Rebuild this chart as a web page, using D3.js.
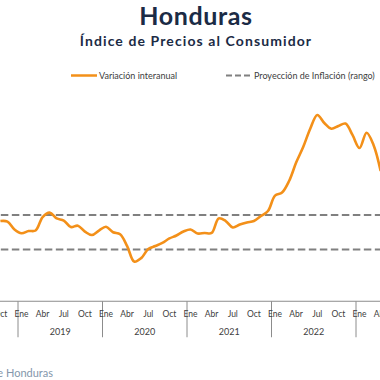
<!DOCTYPE html>
<html>
<head>
<meta charset="utf-8">
<script src="https://cdn.jsdelivr.net/npm/d3@7"></script>
<style>
  html, body { margin: 0; padding: 0; background: #fff; }
  svg { display: block; font-family: "Lato", "Noto Sans", sans-serif; }
</style>
</head>
<body>
<div id="chart"></div>
<script>
// Monthly CPI year-on-year change, Honduras (%), Oct 2018 .. Apr 2023
const months = [
  "2018-10", "2018-11", "2018-12",
  "2019-01", "2019-02", "2019-03", "2019-04", "2019-05", "2019-06",
  "2019-07", "2019-08", "2019-09", "2019-10", "2019-11", "2019-12",
  "2020-01", "2020-02", "2020-03", "2020-04", "2020-05", "2020-06",
  "2020-07", "2020-08", "2020-09", "2020-10", "2020-11", "2020-12",
  "2021-01", "2021-02", "2021-03", "2021-04", "2021-05", "2021-06",
  "2021-07", "2021-08", "2021-09", "2021-10", "2021-11", "2021-12",
  "2022-01", "2022-02", "2022-03", "2022-04", "2022-05", "2022-06",
  "2022-07", "2022-08", "2022-09", "2022-10", "2022-11", "2022-12",
  "2023-01", "2023-02", "2023-03", "2023-04"
];
const inflation = [
  4.65, 4.62, 4.16,
  3.94, 4.07, 4.10, 4.88, 5.14, 4.80,
  4.68, 4.30, 4.38, 4.04, 3.84, 4.10,
  4.32, 4.00, 3.88, 3.20, 2.30, 2.50,
  3.03, 3.20, 3.38, 3.64, 3.81, 4.04,
  4.16, 3.93, 3.96, 3.96, 4.80, 4.65,
  4.28, 4.45, 4.57, 4.65, 4.94, 5.23,
  6.12, 6.30, 6.97, 8.04, 8.94, 10.00,
  10.80, 10.33, 10.00, 10.16, 10.30, 9.64,
  8.88, 9.77, 9.05, 7.55
];
// Inflation projection range (%)
const rangeLow = 3;
const rangeHigh = 5;

const years = [2018, 2019, 2020, 2021, 2022, 2023];
const monthTicks = [0, 3, 6, 9];
const monthNames = ["Ene", "Abr", "Jul", "Oct"];

const W = 380, H = 380;
const svg = d3.select("#chart").append("svg")
  .attr("width", W).attr("height", H);

// month index counted from Jan 2019
const idx = m => {
  const [y, mo] = m.split("-").map(Number);
  return (y - 2019) * 12 + (mo - 1);
};

const x = d3.scaleLinear().domain([0, 12]).range([18, 102.5]);
const y = d3.scaleLinear().domain([0, 12]).range([301.25, 94.25]);

// titles
svg.append("text")
  .attr("x", 196).attr("y", 25)
  .attr("text-anchor", "middle")
  .attr("font-size", 25).attr("font-weight", 700)
  .attr("letter-spacing", 0.6)
  .attr("fill", "#1b2b45")
  .text("Honduras");
svg.append("text")
  .attr("x", 196).attr("y", 45.5)
  .attr("text-anchor", "middle")
  .attr("font-size", 14).attr("font-weight", 700)
  .attr("letter-spacing", 1.1)
  .attr("fill", "#1b2b45")
  .text("Índice de Precios al Consumidor");

// legend
const legend = svg.append("g").attr("font-size", 9).attr("fill", "#404040");
legend.append("line")
  .attr("x1", 71).attr("x2", 97).attr("y1", 75.5).attr("y2", 75.5)
  .attr("stroke", "#f39019").attr("stroke-width", 2.5);
legend.append("text").attr("x", 99).attr("y", 78.8).text("Variación interanual");
legend.append("line")
  .attr("x1", 226).attr("x2", 252).attr("y1", 75.5).attr("y2", 75.5)
  .attr("stroke", "#808080").attr("stroke-width", 2)
  .attr("stroke-dasharray", "6,3");
legend.append("text").attr("x", 254).attr("y", 78.8).text("Proyección de Inflación (rango)");

// projection range
const xMin = idx(months[0]) - 1, xMax = idx(months[months.length - 1]) + 2;
[rangeLow, rangeHigh].forEach(v => {
  svg.append("line")
    .attr("x1", x(xMin)).attr("x2", x(xMax))
    .attr("y1", y(v)).attr("y2", y(v))
    .attr("stroke", "#808080").attr("stroke-width", 2)
    .attr("stroke-dasharray", "7.5,3.5");
});

// series
const line = d3.line()
  .x(d => x(idx(d.m) + 0.5))
  .y(d => y(d.v))
  .curve(d3.curveCatmullRom.alpha(0.5));
svg.append("path")
  .datum(months.map((m, i) => ({m, v: inflation[i]})))
  .attr("d", line)
  .attr("fill", "none")
  .attr("stroke", "#f39019")
  .attr("stroke-width", 2.6)
  .attr("stroke-linejoin", "round");

// x axis
const axisY = y(0);
svg.append("line")
  .attr("x1", 0).attr("x2", W).attr("y1", axisY).attr("y2", axisY)
  .attr("stroke", "#8c8c8c").attr("stroke-width", 1);

const axis = svg.append("g").attr("fill", "#404040");
years.forEach(yr => {
  const start = (yr - 2019) * 12;
  axis.append("line")
    .attr("x1", x(start)).attr("x2", x(start))
    .attr("y1", axisY).attr("y2", axisY + 36)
    .attr("stroke", "#8c8c8c").attr("stroke-width", 1);
  monthTicks.forEach((mt, k) => {
    axis.append("text")
      .attr("x", x(start + mt + 0.5)).attr("y", axisY + 16)
      .attr("text-anchor", "middle").attr("font-size", 8.5)
      .text(monthNames[k]);
  });
  axis.append("text")
    .attr("x", x(start + 6)).attr("y", axisY + 33.5)
    .attr("text-anchor", "middle").attr("font-size", 9)
    .text(yr);
});

// source
svg.append("text")
  .attr("x", 53).attr("y", 376.5)
  .attr("text-anchor", "end")
  .attr("font-size", 11).attr("fill", "#8497ab")
  .text("Fuente: Banco Central de Honduras");
</script>
</body>
</html>
